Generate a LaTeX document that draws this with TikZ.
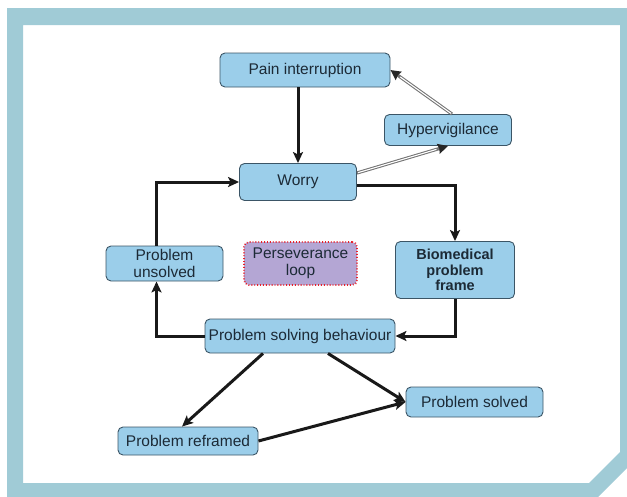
\documentclass[tikz,border=0pt]{standalone}
\usepackage{fontspec}
\setmainfont{Liberation Sans}
\usetikzlibrary{arrows.meta,positioning,calc}
\definecolor{pfFrame}{HTML}{A0CBD6}
\definecolor{pfBox}{HTML}{9BCEEA}
\definecolor{pfEdge}{HTML}{3B5566}
\definecolor{pfInk}{HTML}{1C2A36}
\definecolor{pfLoop}{HTML}{B4A6D4}
\definecolor{pfDots}{HTML}{E8202A}

\begin{document}
\begin{tikzpicture}[x=1pt, y=-1pt,
  box/.style={draw=pfEdge, line width=0.9pt, rounded corners=5pt, fill=pfBox, text=pfInk, inner sep=0pt, align=center, font=\fontsize{15.5}{17.5}\selectfont},
  boldbox/.style={box, font=\fontsize{14.5}{15.5}\selectfont\bfseries},
  loopbox/.style={box, draw=pfDots, dotted, line width=1.8pt, fill=pfLoop},
  arr/.style={-{Stealth[length=11pt,width=10pt,inset=2.5pt]}, line width=3pt, black!90},
  gry/.style={-{Stealth[length=10pt,width=10pt,inset=1pt,color=black!85]}, draw=black!55, line width=3.2pt},
  gryin/.style={white, line width=1.1pt, shorten >=12pt, shorten <=1pt}]
\clip (0,0) rectangle (627,496);
% light blue frame with the cut corner
\fill[pfFrame, even odd rule] (7,8) -- (660,8) -- (660,435) -- (585,510) -- (7,510) -- cycle
  (23,25) -- (620,25) -- (620,452) -- (589,483) -- (23,483) -- cycle;

\node[box, minimum width=170, minimum height=34] (pain) at (305,70) {Pain interruption};
\node[box, minimum width=127, minimum height=31] (hyper) at (448,130) {Hypervigilance};
\node[box, minimum width=117, minimum height=37] (worry) at (298,182) {Worry};
\node[boldbox, minimum width=119, minimum height=57] (bio) at (455,270) {Biomedical\\problem\\frame};
\node[box, minimum width=117, minimum height=35] (unsolved) at (164.5,263.5) {Problem\\unsolved};
\node[loopbox, minimum width=113, minimum height=43] (persev) at (300.5,263.5) {Perseverance\\loop};
\node[box, minimum width=190, minimum height=34] (psb) at (300,336) {Problem solving behaviour};
\node[box, minimum width=137, minimum height=30] (solved) at (474.5,402) {Problem solved};
\node[box, minimum width=140, minimum height=28] (reframed) at (188,441) {Problem reframed};

% worry cycle
\coordinate (wout) at ([yshift=9pt]worry.east);
\coordinate (hout) at ([xshift=4pt]hyper.north);
\draw[arr] (pain.south -| worry.north) -- (worry.north);
\foreach \a/\b in {wout/hyper.south,hout/pain.east}{
  \draw[gry] (\a) -- (\b);
  \draw[gryin] (\a) -- (\b);}
\draw[arr] ([yshift=-3pt]worry.east) -| (bio.north);
\draw[arr] (bio.south) |- (psb.east);
\draw[arr] (psb.west) -| ([xshift=-8pt]unsolved.south);
\draw[arr] ([xshift=-8pt]unsolved.north) |- (worry.west);

% ways out
\draw[arr] ([xshift=-37pt]psb.south) -- ([xshift=-6pt]reframed.north);
\draw[arr] ([xshift=28pt]psb.south) -- (solved.west);
\draw[arr] (reframed.east) -- (solved.west);
\end{tikzpicture}
\end{document}
